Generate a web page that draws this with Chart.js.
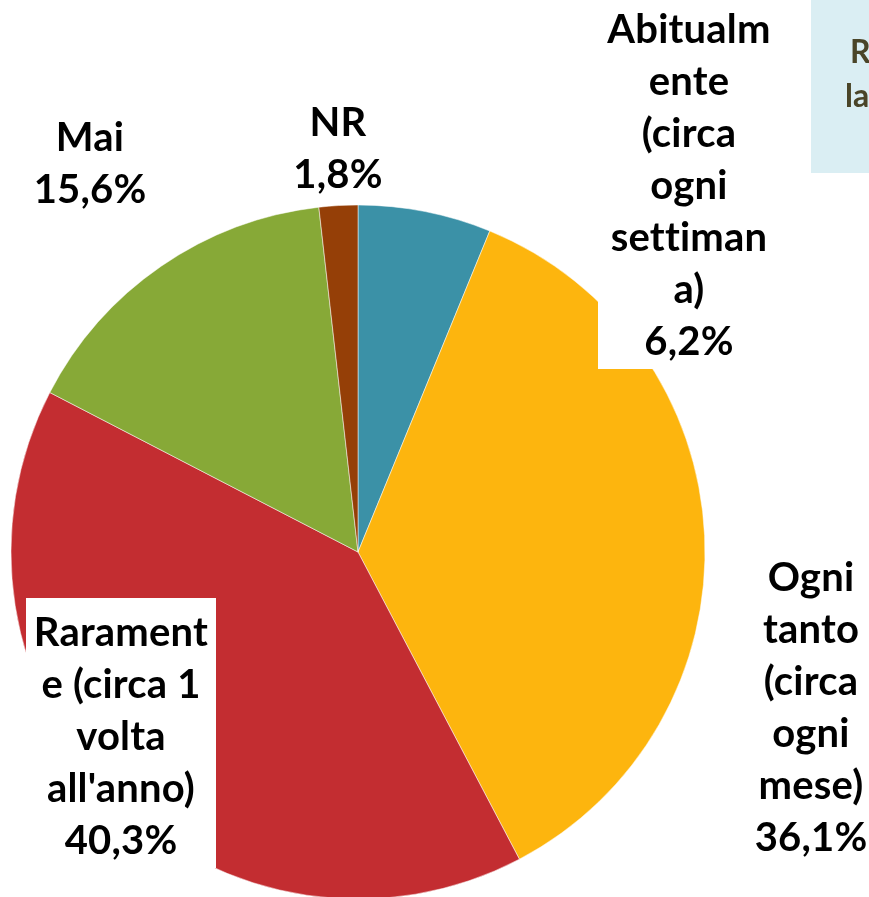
<!DOCTYPE html>
<html lang="it">
<head>
    <meta charset="UTF-8">
    <title>Frequenza</title>
    <script src="https://cdn.jsdelivr.net/npm/chart.js"></script>
    <style>
        html, body { margin: 0; padding: 0; background: #fff; overflow: hidden; }
        #wrap { position: relative; width: 869px; height: 897px; }
    </style>
</head>
<body>
<div id="wrap"><canvas id="pieChart" width="869" height="897"></canvas></div>
<script>
    // Data (clockwise from 12 o'clock)
    const categories = ['Abitualmente (circa ogni settimana)', 'Ogni tanto (circa ogni mese)', "Raramente (circa 1 volta all'anno)", 'Mai', 'NR'];
    const values = [6.2, 36.1, 40.3, 15.6, 1.8];
    const colors = ['#3B91A7', '#FDB50E', '#C32D31', '#87A937', '#953F07'];

    // Label text as wrapped in the original
    const labelLines = [
        ['Abitualm', 'ente', '(circa', 'ogni', 'settiman', 'a)'],
        ['Ogni', 'tanto', '(circa', 'ogni', 'mese)'],
        ['Rarament', 'e (circa 1', 'volta', "all'anno)"],
        ['Mai'],
        ['NR']
    ];
    // label placement: centre x, first line y, white box painted behind (x, y, w, h)
    const labelPos = [
        { x: 689, y: 30, box: [598, -10, 184, 379] },
        { x: 811, y: 578, box: null },
        { x: 121, y: 633, box: [26, 598, 190, 270] },
        { x: 90, y: 138, box: null },
        { x: 338, y: 123, box: null }
    ];

    const fmt = v => v.toFixed(1).replace('.', ',') + '%';

    const labelPlugin = {
        id: 'pieLabels',
        afterDraw(chart) {
            const ctx = chart.ctx;
            ctx.save();
            // partial note box top right
            ctx.fillStyle = '#DAEEF3';
            ctx.fillRect(811, 0, 80, 173);
            ctx.fillStyle = '#4A4528';
            ctx.font = 'bold 32px Lato';
            ctx.textAlign = 'left';
            ctx.textBaseline = 'middle';
            ctx.fillText('R', 850, 53);
            ctx.fillText('la', 845, 97);

            const lineH = 52;
            ctx.font = 'bold 40px Lato';
            ctx.letterSpacing = '0.2px'; // keeps "tti" from turning into a ligature
            ctx.textAlign = 'center';
            values.forEach((v, i) => {
                const p = labelPos[i];
                const lines = labelLines[i].concat([fmt(v)]);
                if (p.box) {
                    ctx.fillStyle = '#ffffff';
                    ctx.fillRect(p.box[0], p.box[1], p.box[2], p.box[3]);
                }
                ctx.fillStyle = '#000000';
                lines.forEach((t, k) => ctx.fillText(t, p.x, p.y + k * lineH));
            });
            ctx.restore();
        }
    };

    const ctx = document.getElementById('pieChart').getContext('2d');
    new Chart(ctx, {
        type: 'pie',
        data: {
            labels: categories,
            datasets: [{
                data: values,
                backgroundColor: colors,
                borderColor: '#ffffff',
                borderWidth: 0.5,
                radius: 347
            }]
        },
        options: {
            responsive: false,
            animation: false,
            layout: { padding: { left: 0, right: 153, top: 207, bottom: 0 } },
            plugins: {
                legend: { display: false },
                tooltip: { enabled: false }
            }
        },
        plugins: [labelPlugin]
    });
</script>
</body>
</html>
